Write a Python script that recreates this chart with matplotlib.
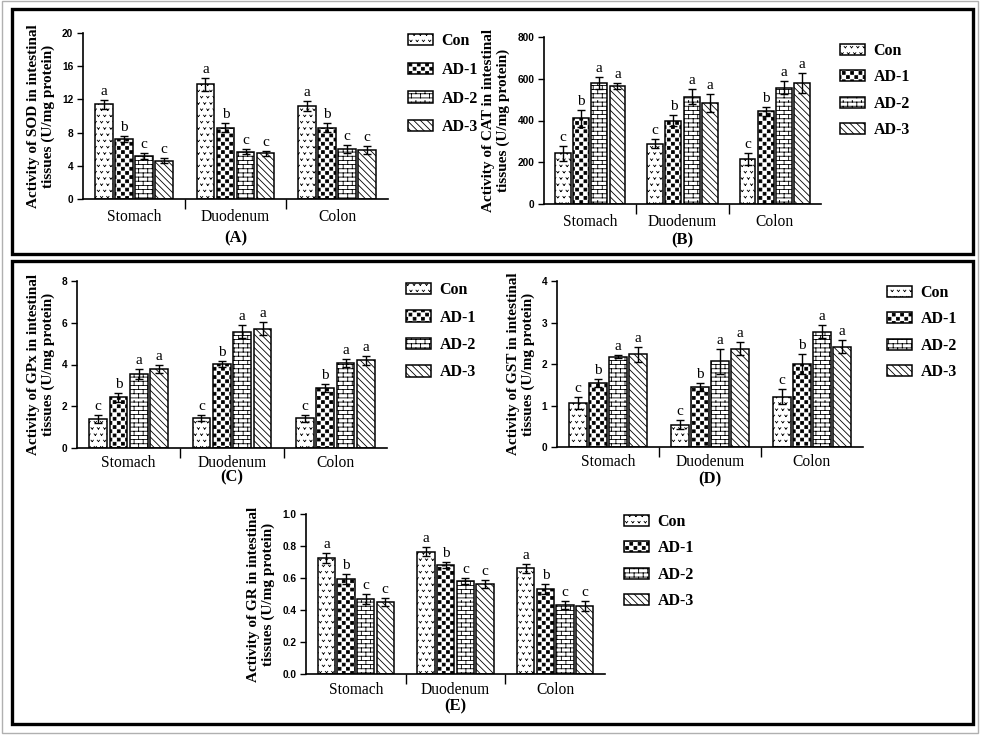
import warnings
warnings.filterwarnings("ignore")
import numpy as np
import matplotlib
matplotlib.use("Agg")
import matplotlib.pyplot as plt
import matplotlib.hatch as mhatch
from matplotlib.path import Path
from matplotlib.patches import Rectangle

# ---------------- data ----------------
organs = ["Stomach", "Duodenum", "Colon"]
groups = ["Con", "AD-1", "AD-2", "AD-3"]

sod_mean = [[11.4, 7.2, 5.2, 4.6], [13.8, 8.6, 5.7, 5.5], [11.2, 8.6, 6.0, 5.9]]
sod_err = [[0.55, 0.35, 0.4, 0.3], [0.8, 0.5, 0.3, 0.3], [0.6, 0.5, 0.5, 0.5]]
sod_sig = [["a", "b", "c", "c"], ["a", "b", "c", "c"], ["a", "b", "c", "c"]]

cat_mean = [[243, 410, 579, 566], [288, 400, 514, 486], [216, 445, 558, 581]]
cat_err = [[37, 40, 29, 14], [22, 28, 35, 43], [27, 22, 32, 48]]
cat_sig = [["c", "b", "a", "a"], ["c", "b", "a", "a"], ["c", "b", "a", "a"]]

gpx_mean = [[1.39, 2.43, 3.55, 3.79], [1.42, 4.03, 5.58, 5.72], [1.42, 2.86, 4.06, 4.20]]
gpx_err = [[0.2, 0.22, 0.24, 0.2], [0.15, 0.15, 0.32, 0.32], [0.18, 0.2, 0.2, 0.2]]
gpx_sig = [["c", "b", "a", "a"], ["c", "b", "a", "a"], ["c", "b", "a", "a"]]

gst_mean = [[1.06, 1.54, 2.18, 2.23], [0.54, 1.45, 2.07, 2.37], [1.21, 2.01, 2.78, 2.42]]
gst_err = [[0.14, 0.1, 0.04, 0.17], [0.11, 0.09, 0.3, 0.15], [0.18, 0.24, 0.16, 0.16]]
gst_sig = [["c", "b", "a", "a"], ["c", "b", "a", "a"], ["c", "b", "a", "a"]]

gr_mean = [[0.726, 0.593, 0.47, 0.451], [0.765, 0.68, 0.58, 0.565], [0.66, 0.532, 0.432, 0.424]]
gr_err = [[0.03, 0.03, 0.03, 0.025], [0.03, 0.02, 0.02, 0.025], [0.03, 0.03, 0.025, 0.03]]
gr_sig = [["a", "b", "c", "c"], ["a", "b", "c", "c"], ["a", "b", "c", "c"]]

sod_ticks = [0, 4, 8, 12, 16, 20]
cat_ticks = [0, 200, 400, 600, 800]
gpx_ticks = [0, 2, 4, 6, 8]
gst_ticks = [0, 1, 2, 3, 4]
gr_ticks = [0.0, 0.2, 0.4, 0.6, 0.8, 1.0]


# ---------------- custom hatch patterns ----------------
class CheckerHatch(mhatch.HatchPatternBase):
    def __init__(self, hatch, density):
        self.n = 12 if "k" in hatch else 0
        self.num_vertices = 2 * self.n * self.n * 5

    def set_vertices_and_codes(self, vertices, codes):
        m = 2 * self.n
        c = 1.0 / m
        ins = c * 0.16
        idx = 0
        for i in range(m):
            for j in range(m):
                if (i + j) % 2 == 0:
                    x0, y0 = i * c + ins, j * c + ins
                    x1, y1 = (i + 1) * c - ins, (j + 1) * c - ins
                    vertices[idx:idx + 5] = [(x0, y0), (x1, y0), (x1, y1), (x0, y1), (x0, y0)]
                    codes[idx] = Path.MOVETO
                    codes[idx + 1:idx + 4] = Path.LINETO
                    codes[idx + 4] = Path.CLOSEPOLY
                    idx += 5


class BrickHatch(mhatch.HatchPatternBase):
    def __init__(self, hatch, density):
        self.rows = 24 if "b" in hatch else 0
        self.cols = 11
        self.num_vertices = (self.rows * 2 + self.rows * self.cols * 2) if self.rows else 0

    def set_vertices_and_codes(self, vertices, codes):
        r, cn = self.rows, self.cols
        h = 1.0 / r
        idx = 0
        for k in range(r):
            y = (k + 0.5) * h
            vertices[idx:idx + 2] = [(0.0, y), (1.0, y)]
            codes[idx] = Path.MOVETO
            codes[idx + 1] = Path.LINETO
            idx += 2
        for k in range(r):
            y0 = (k + 0.5) * h
            y1 = y0 + h
            off = 0.5 if k % 2 else 0.0
            for m in range(cn):
                x = ((m + off + 0.25) / cn) % 1.0
                vertices[idx:idx + 2] = [(x, y0), (x, min(y1, 1.0))]
                codes[idx] = Path.MOVETO
                codes[idx + 1] = Path.LINETO
                idx += 2


class ChevronHatch(mhatch.HatchPatternBase):
    def __init__(self, hatch, density):
        self.rows = 16 if "v" in hatch else 0
        self.cols = 16
        self.num_vertices = self.rows * self.cols * 4 if self.rows else 0

    def set_vertices_and_codes(self, vertices, codes):
        r, cn = self.rows, self.cols
        a = 0.012
        b = 0.014
        idx = 0
        for k in range(r):
            y = (k + 0.35) / r
            off = 0.5 if k % 2 else 0.0
            for m in range(cn):
                x = (m + off + 0.25) / cn
                vertices[idx:idx + 4] = [(x - a, y + b), (x, y), (x, y), (x + a, y + b)]
                codes[idx] = Path.MOVETO
                codes[idx + 1] = Path.LINETO
                codes[idx + 2] = Path.MOVETO
                codes[idx + 3] = Path.LINETO
                idx += 4


mhatch._hatch_types.extend([CheckerHatch, BrickHatch, ChevronHatch])

plt.rcParams["hatch.linewidth"] = 0.6
plt.rcParams["axes.linewidth"] = 1.2

hatches = ["v", "k", "b", "\\\\\\\\\\"]

SERIF = "Liberation Serif"
SANS = "Liberation Sans"

fig = plt.figure(figsize=(9.87, 7.36), dpi=100)
W, H = 987.0, 736.0


def fx(px):
    return px / W


def fy(py):
    return 1 - py / H


# outer boxes
fig.patches.append(Rectangle((fx(2), fy(733)), fx(978) - fx(2), fy(1) - fy(733), transform=fig.transFigure,
                             fill=False, edgecolor="#b0b0b0", linewidth=1.0))
fig.patches.append(Rectangle((fx(12), fy(254)), fx(973) - fx(12), fy(9) - fy(254), transform=fig.transFigure,
                             fill=False, edgecolor="black", linewidth=2.4))
fig.patches.append(Rectangle((fx(12), fy(724)), fx(973) - fx(12), fy(261) - fy(724), transform=fig.transFigure,
                             fill=False, edgecolor="black", linewidth=2.4))


def panel(box, mean, err, sig, ticks, ylabel, tag, tagy, leg_xy, leg_space, fmt="{:g}", xpad=7):
    x0, x1, ytop, ybot = box
    ax = fig.add_axes([fx(x0), fy(ybot), fx(x1) - fx(x0), fy(ytop) - fy(ybot)])
    mean = np.array(mean)
    err = np.array(err)
    slot = 0.197
    bw = 0.172
    handles = []
    top = ticks[-1]
    for gi in range(4):
        xs = np.arange(3) + (gi - 1.5) * slot
        bars = ax.bar(xs, mean[:, gi], width=bw, color="white", edgecolor="black", linewidth=1.1,
                      hatch=hatches[gi], label=groups[gi], zorder=2)
        ax.errorbar(xs, mean[:, gi], yerr=err[:, gi], fmt="none", ecolor="black", elinewidth=1.0,
                    capsize=3.2, capthick=1.0, zorder=3)
        handles.append(bars)
        for oi in range(3):
            ax.text(xs[oi], mean[oi, gi] + err[oi, gi] + top * 0.012, sig[oi][gi], ha="center", va="bottom",
                    fontsize=11, family=SERIF)
    ax.set_xlim(-0.5, 2.5)
    ax.set_ylim(0, top)
    ax.set_yticks(ticks)
    ax.set_yticklabels([fmt.format(t) for t in ticks], family=SANS, fontweight="bold", fontsize=7.3)
    ax.set_xticks([0, 1, 2])
    ax.set_xticklabels(organs, family=SERIF, fontsize=11.2)
    ax.tick_params(axis="x", which="major", length=0, pad=xpad)
    ax.set_xticks([0.5, 1.5], minor=True)
    ax.tick_params(axis="x", which="minor", length=7, width=1.0, direction="out")
    ax.tick_params(axis="y", length=4, width=1.0, pad=3)
    for s in ["top", "right"]:
        ax.spines[s].set_visible(False)
    ax.set_ylabel(ylabel, family=SERIF, fontweight="bold", fontsize=11, linespacing=1.15, labelpad=5)
    fig.text((fx(x0) + fx(x1)) / 2, fy(tagy), tag, ha="center", va="center", family=SERIF,
             fontweight="bold", fontsize=12)
    ax.legend(handles=handles, loc="upper left", bbox_to_anchor=(fx(leg_xy[0]), fy(leg_xy[1])),
              bbox_transform=fig.transFigure, frameon=False, borderpad=0, borderaxespad=0,
              handlelength=1.55, handleheight=0.7, handletextpad=0.55, labelspacing=leg_space,
              prop={"family": SERIF, "weight": "bold", "size": 11.5})
    return ax


panel((83, 388, 33, 199), sod_mean, sod_err, sod_sig, sod_ticks,
      "Activity of SOD in intestinal\ntissues (U/mg protein)", "(A)", 238, (408, 33), 0.8)
panel((544, 821, 37, 204), cat_mean, cat_err, cat_sig, cat_ticks,
      "Activity of CAT in intestinal\ntissues (U/mg protein)", "(B)", 240, (840, 43), 0.65)
panel((77, 387, 281, 448), gpx_mean, gpx_err, gpx_sig, gpx_ticks,
      "Activity of GPx in intestinal\ntissues (U/mg protein)", "(C)", 477, (406, 282), 0.72, xpad=5)
panel((557, 863, 281, 447), gst_mean, gst_err, gst_sig, gst_ticks,
      "Activity of GST in intestinal\ntissues (U/mg protein)", "(D)", 479, (887, 285), 0.65, xpad=5)
panel((306, 605, 514, 674), gr_mean, gr_err, gr_sig, gr_ticks,
      "Activity of GR in intestinal\ntissues (U/mg protein)", "(E)", 706, (624, 514), 0.65, fmt="{:.1f}", xpad=6)

fig.savefig("out.png", dpi=100)
